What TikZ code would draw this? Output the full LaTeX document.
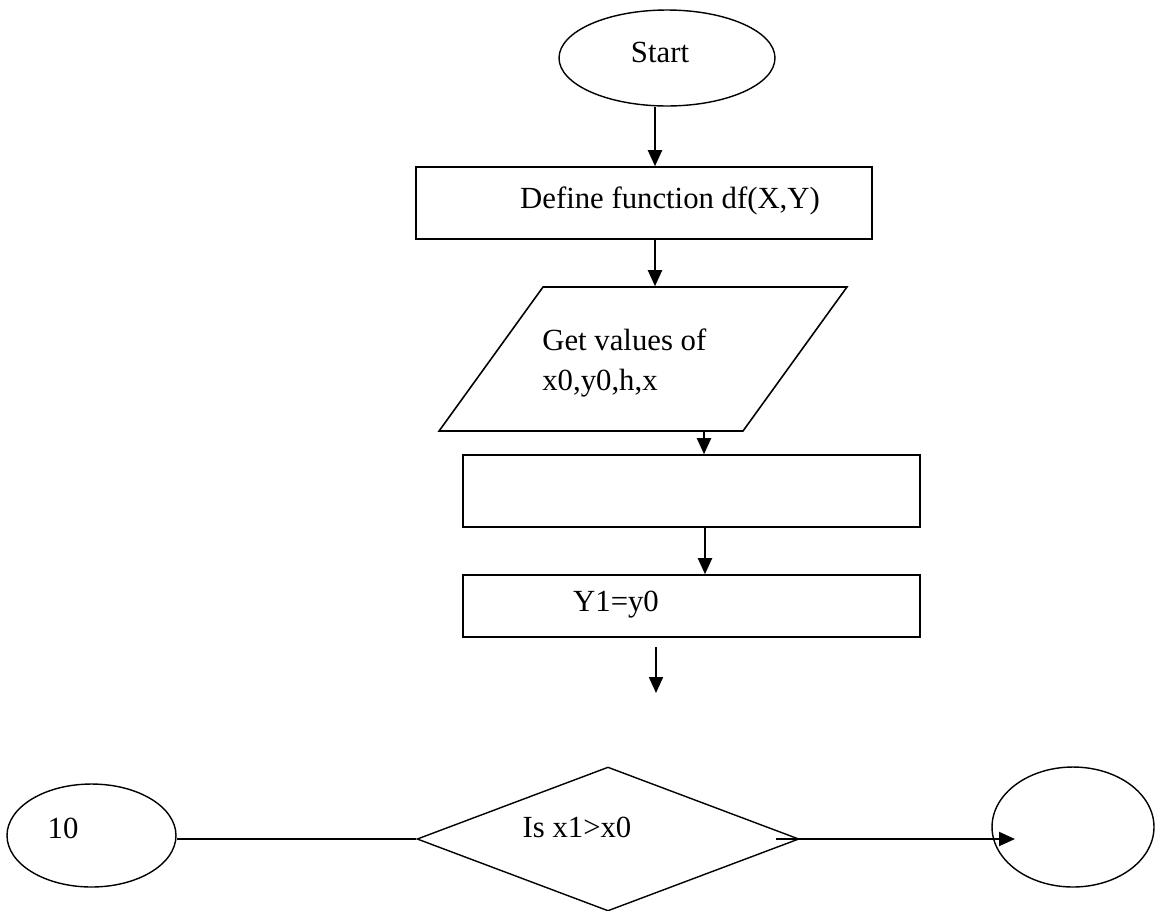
\documentclass[tikz,border=0pt]{standalone}
\usepackage{fontspec}
\setmainfont{Liberation Serif}
\usetikzlibrary{shapes.geometric}
\usetikzlibrary{positioning}
\usetikzlibrary{arrows.meta}

\begin{document}
\begin{tikzpicture}[x=0.02cm, y=-0.02cm,
  every node/.style={font=\fontsize{17.5}{22.8}\selectfont},
  proc/.style={draw, line width=0.9pt, rectangle, minimum width=9.14cm, inner sep=0pt},
  term/.style={draw, line width=0.8pt, ellipse, inner sep=0pt},
  txt/.style={inner sep=0pt},
  arr/.style={-{Triangle[length=0.32cm,width=0.28cm]}, line width=1.2pt}]

\useasboundingbox (0,0) rectangle (1155,910);

%---------------------------------------
% Main column
%---------------------------------------
\node[term, minimum width=4.32cm, minimum height=1.92cm] (start) at (667,58) {};
\node[txt] (startTxt) at (660,52) {Start};

\node[proc, minimum width=9.12cm, minimum height=1.44cm] (define) at (644,203) {};
\node[txt] (defineTxt) at (670,201) {Define function df(X,Y)};

% input box (slanted rectangle)
\begin{scope}[shift={(643,359)}, xslant=0.722]
  \node[draw, line width=0.9pt, rectangle, minimum width=6.08cm, minimum height=2.88cm,
        inner sep=0pt, transform shape] (getvals) at (0,0) {};
\end{scope}
\node[txt, anchor=west, align=left] (getvalsTxt) at (542,363) {Get values of\\x0,y0,h,x};

\node[proc, minimum height=1.44cm] (calc) at (691.5,491) {};

\node[proc, minimum height=1.24cm] (yinit) at (691.5,606) {};
\node[txt] (yinitTxt) at (616,605) {Y1=y0};

% arrows down the column
\draw[arr] (655,0 |- start.south) -- (655,0 |- define.north);
\draw[arr] (655,0 |- define.south) -- (655,0 |- getvals.north);
\draw[arr] (704,0 |- getvals.south) -- (704,0 |- calc.north);
\draw[arr] (705,0 |- calc.south) -- (705,0 |- yinit.north);

\coordinate (freeA) at (656,647);
\coordinate (freeB) at (656,693);
\draw[arr] (freeA) -- (freeB);

%---------------------------------------
% Bottom row
%---------------------------------------
\node[term, minimum width=3.38cm, minimum height=2.06cm] (ten) at (91.5,835.5) {};
\node[txt] (tenTxt) at (63,828) {10};

\node[draw, line width=0.8pt, diamond, minimum width=7.64cm, minimum height=2.88cm, inner sep=0pt]
      (isx) at (608,839) {};
\node[txt] (isxTxt) at (577,827) {Is x1>x0};

\node[term, minimum width=3.24cm, minimum height=2.4cm] (stop) at (1073,827) {};

\draw[line width=1.2pt] (ten.east |- isx.west) -- (isx.west);
\draw[arr] (776,0 |- isx.east) -- (1015,0 |- isx.east);

\end{tikzpicture}
\end{document}
